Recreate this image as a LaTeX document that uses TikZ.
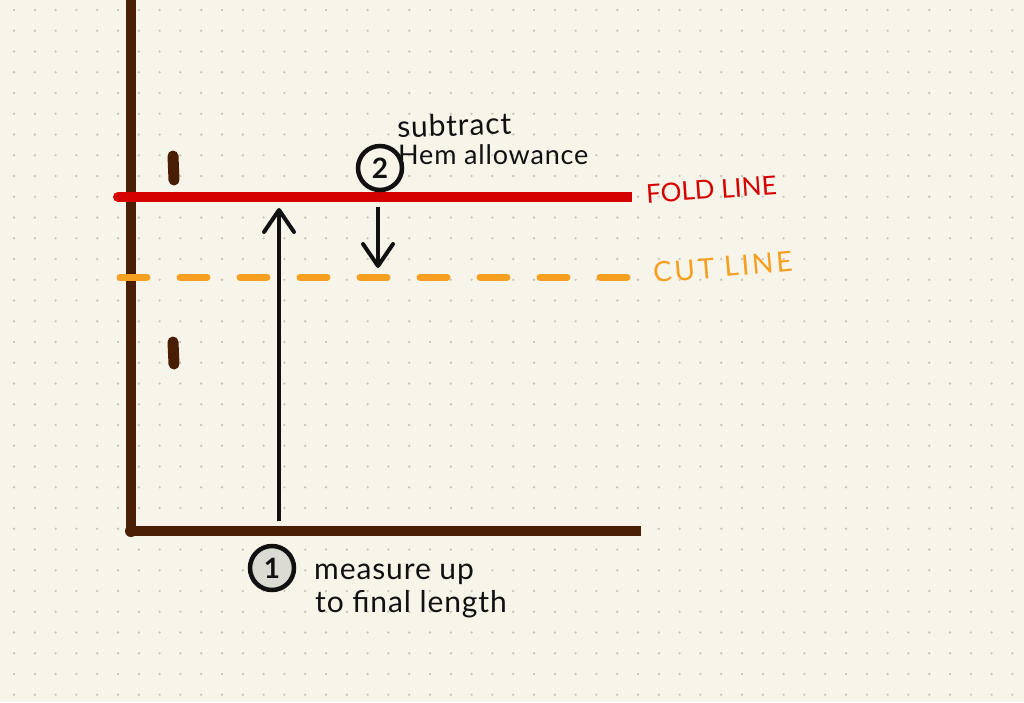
\documentclass[tikz,border=0pt]{standalone}
\usepackage{fontspec}
\setmainfont{Lato}
\usetikzlibrary{arrows.meta}
\definecolor{paper}{HTML}{F7F4E9}
\definecolor{dotc}{HTML}{C9C5BA}
\definecolor{brownl}{HTML}{4A1D05}
\definecolor{redl}{HTML}{D50000}
\definecolor{orangel}{HTML}{F5A020}
\definecolor{inkc}{HTML}{111111}
\definecolor{greyfill}{HTML}{DCDBD3}
\tikzset{
  frameline/.style={draw=brownl, line width=10pt},
  tickmark/.style={draw=brownl, line width=11pt, line cap=round},
  foldline/.style={draw=redl, line width=10pt},
  cutline/.style={draw=orangel, line width=7pt, line cap=round, dash pattern=on 27pt off 33pt},
  measarrow/.style={draw=inkc, line width=4pt, -{Straight Barb[length=22pt, width=30pt, round]}},
  numcircle/.style={circle, draw=inkc, line width=4.5pt, minimum size=44pt, inner sep=0pt, font=\fontsize{28}{28}\selectfont\bfseries, text=inkc},
  note/.style={anchor=west, inner sep=0pt, font=\fontsize{30}{30}\selectfont\addfontfeature{LetterSpace=3}, text=inkc},
  caplabel/.style={anchor=west, inner sep=0pt, font=\fontsize{26}{26}\selectfont}
}
\begin{document}
\begin{tikzpicture}[x=1pt, y=-1pt]
\fill[paper] (0,0) rectangle (1024,702);
\useasboundingbox (0,0) rectangle (1024,702);
% dot grid
\foreach \i in {0,...,48} {
  \foreach \j in {0,...,33} {
    \fill[dotc] ({14+20.8*\i},{10+20.75*\j}) circle (1.3pt);
  }
}
% frame
\coordinate (top) at (131,0);
\coordinate (corner) at (131,531);
\coordinate (right) at (641,531);
\draw[frameline] (top) -- (corner);
\draw[frameline] (corner) -- (right);
\fill[brownl] (corner) circle (6pt);
% ticks
\coordinate (t1a) at (173,156); \coordinate (t1b) at (174,180);
\coordinate (t2a) at (173,342); \coordinate (t2b) at (174,364);
\draw[tickmark] (t1a) -- (t1b);
\draw[tickmark] (t2a) -- (t2b);
% fold line
\coordinate (fl) at (118,197);
\coordinate (fr) at (632,197);
\draw[foldline] (fl) -- (fr);
\fill[redl] (fl) circle (5pt);
% cut line
\coordinate (cl) at (120,277);
\coordinate (cr) at (630,277);
\draw[cutline] (cl) -- (cr);
% labels
\node[caplabel, text=redl, rotate=4] (fold) at (646,194) {FOLD LINE};
\node[caplabel, text=orangel, rotate=5, font=\fontsize{28}{28}\selectfont\addfontfeature{LetterSpace=10}] (cut) at (653,273) {CUT LINE};
% arrows
\coordinate (a1s) at (279,521);
\coordinate (a1e) at (279,208);
\draw[measarrow] (a1s) -- (a1e);
\coordinate (a2s) at (378,207);
\coordinate (a2e) at (378,268);
\draw[measarrow] (a2s) -- (a2e);
% circled numbers
\node[numcircle, fill=paper] (c2) at (380,168) {2};
\node[numcircle, fill=greyfill] (c1) at (272,568) {1};
% notes
\node[note, rotate=2] (n2a) at (397,127) {subtract};
\node[note, font=\fontsize{27}{27}\selectfont\addfontfeature{LetterSpace=3}] (n2b) at (398,155) {Hem allowance};
\node[note] (n1a) at (314,574) {measure up};
\node[note] (n1b) at (315,604) {to final length};
\end{tikzpicture}
\end{document}
